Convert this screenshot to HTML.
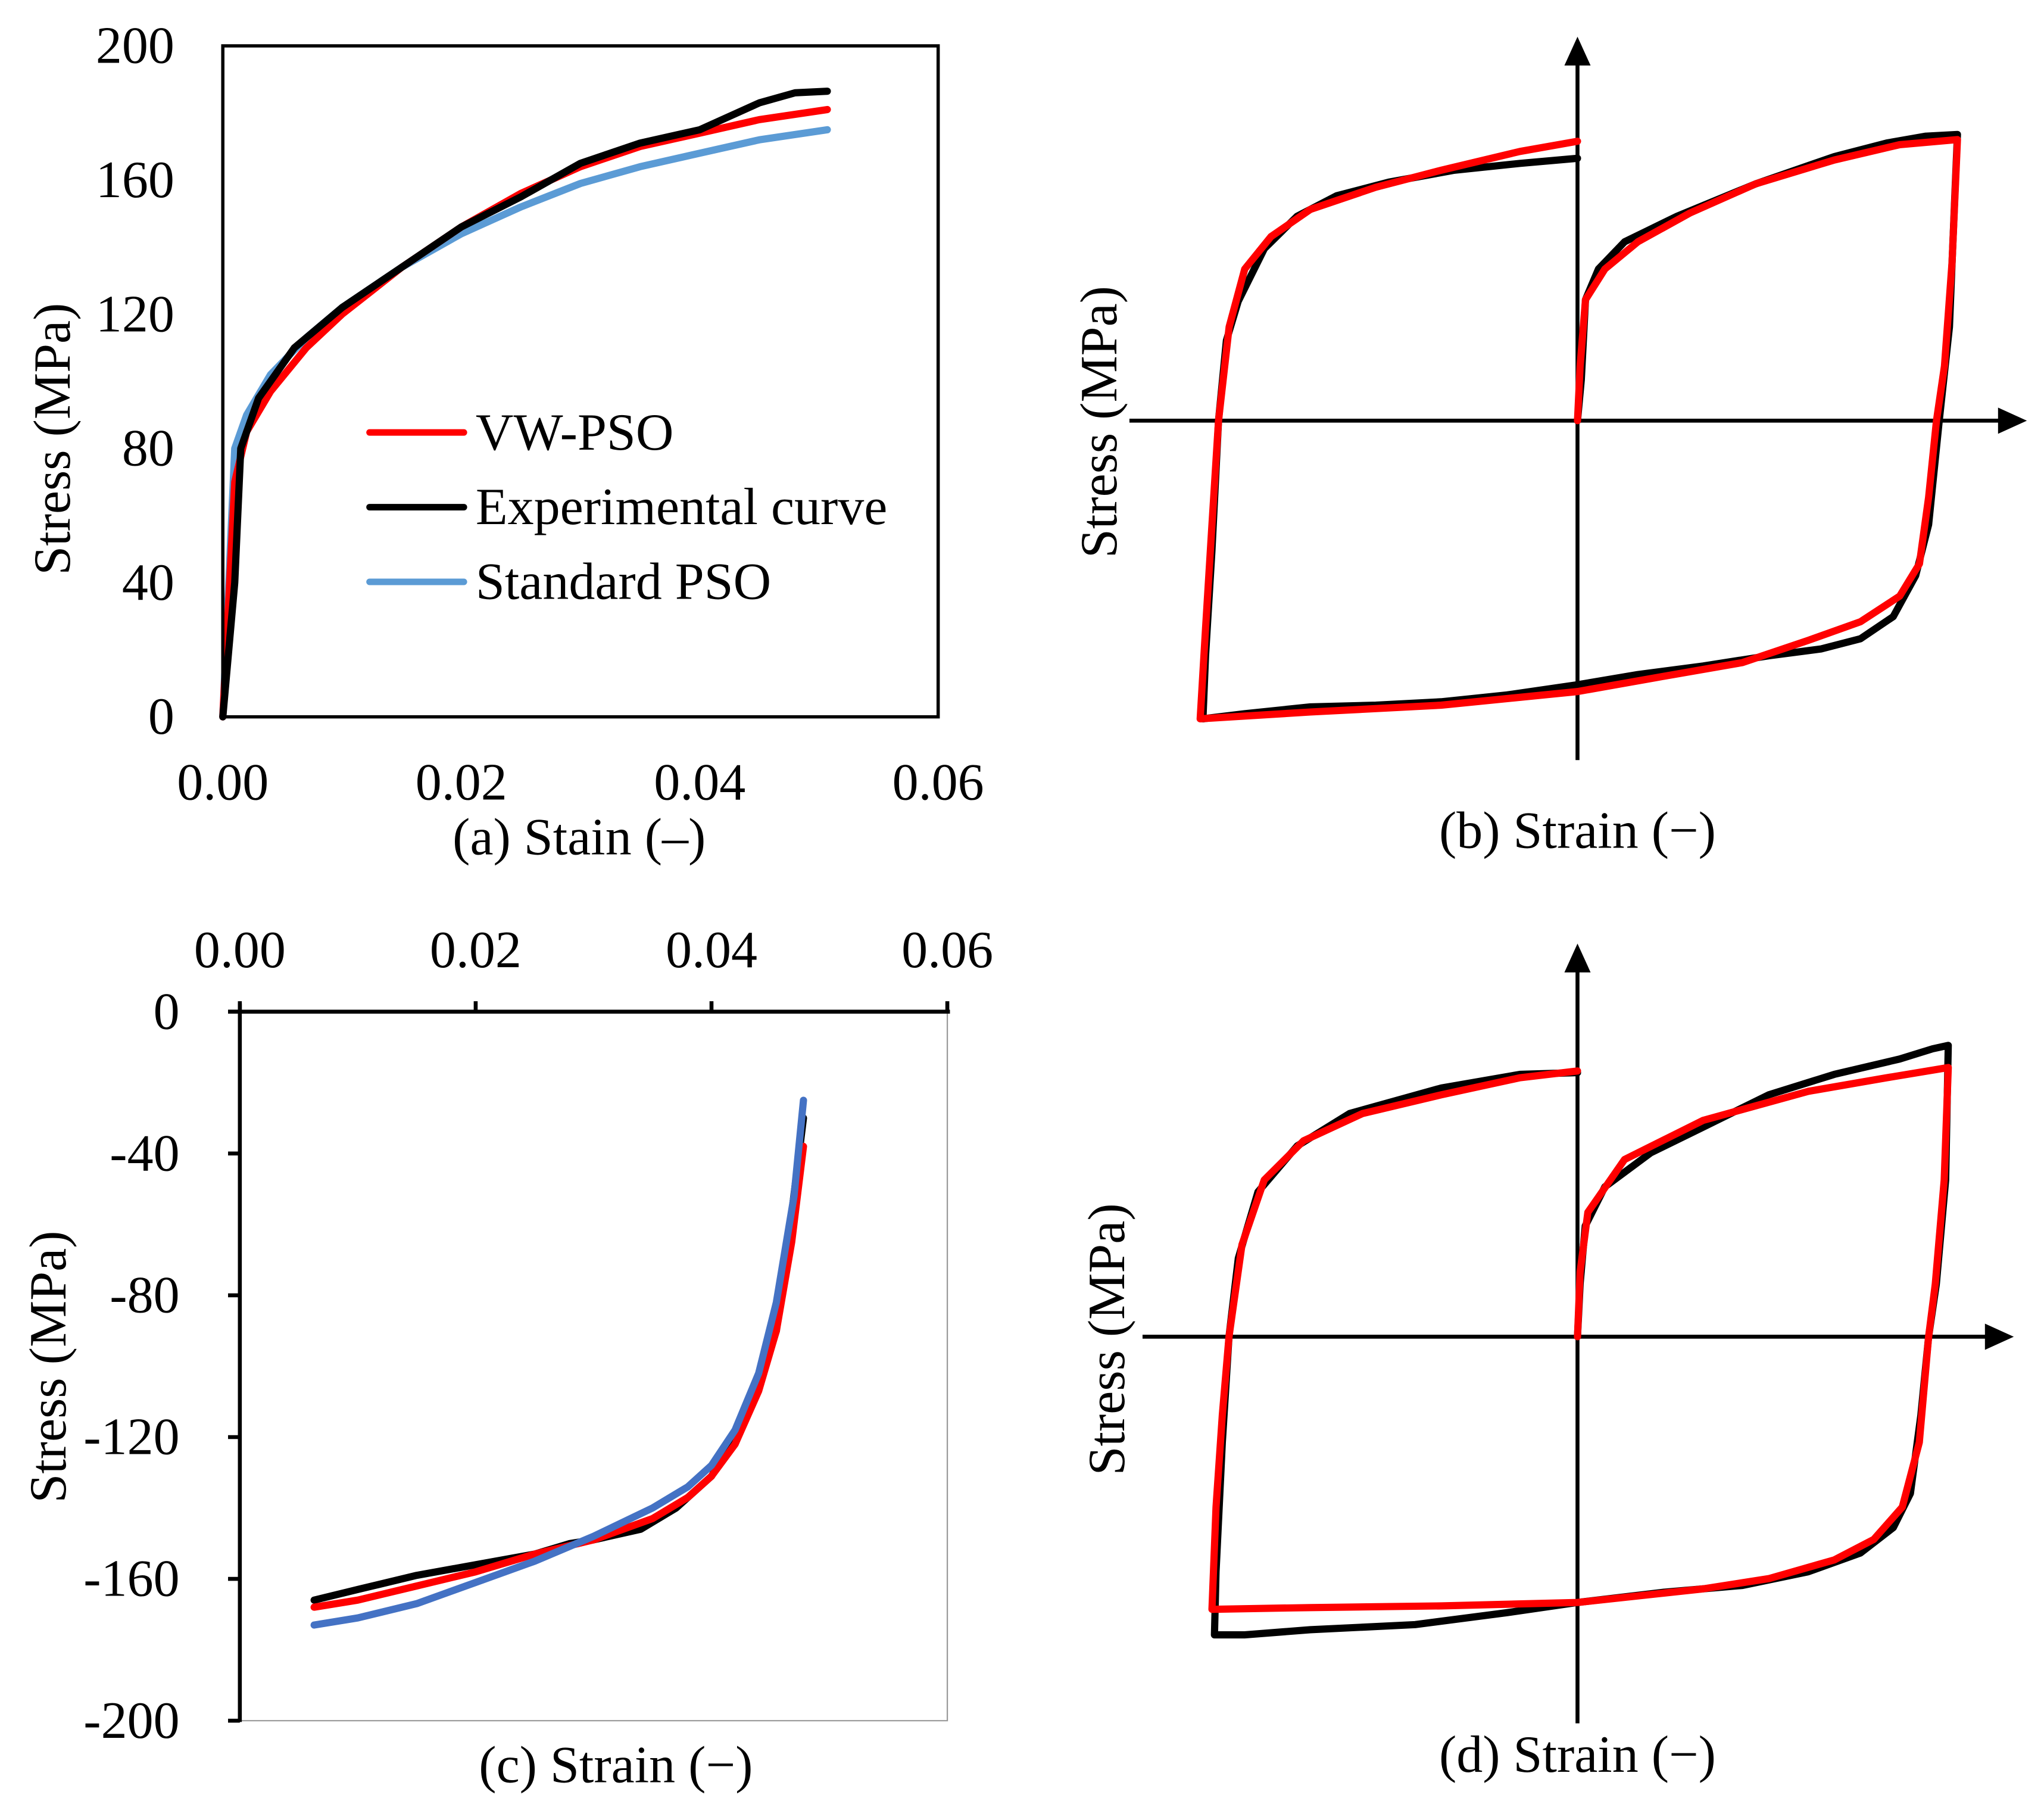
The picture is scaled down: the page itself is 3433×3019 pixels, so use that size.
<!DOCTYPE html>
<html><head><meta charset="utf-8"><style>
html,body{margin:0;padding:0;background:#fff}
svg{display:block}
text{font-family:"Liberation Serif",serif;font-size:40px;fill:#000}
</style></head><body>
<svg id="fig" width="3433" height="3019" viewBox="0 0 1560 1372" xmlns="http://www.w3.org/2000/svg">
<g id="pa"></g>
<g id="pb"></g>
<g id="pc"></g>
<g id="pd"></g>
</svg>
<script>
// Panel (a)
const aStrainExp=[0,0.001,0.0015,0.003,0.006,0.01,0.015,0.02,0.025,0.03,0.035,0.04,0.045,0.048,0.0507];
const aStressExp=[0,40,80,95,110,122,134,146,155,165,171,175,183,186,186.5];
const aStrainVW=[0,0.001,0.002,0.004,0.007,0.01,0.015,0.02,0.025,0.03,0.035,0.04,0.045,0.0507];
const aStressVW=[0,70,85,97,110,120,134,146,156,164,170,174,178,181];
const aStrainStd=[0,0.001,0.002,0.004,0.007,0.01,0.015,0.02,0.025,0.03,0.035,0.04,0.045,0.0507];
const aStressStd=[0,80,90,102,113,122,134,144,152,159,164,168,172,175];
const aYTicks=[0,40,80,120,160,200];
const aXTicks=[0,0.02,0.04,0.06];
const aXLabels=["0.00","0.02","0.04","0.06"];
const legendNames=["VW-PSO","Experimental curve","Standard PSO"];
// Panel (c)
const cStrainExp=[0.0063,0.01,0.015,0.02,0.025,0.028,0.03,0.034,0.037,0.04,0.042,0.044,0.0455,0.0465,0.0478];
const cStressExp=[-166,-163,-159,-156,-153,-150,-149,-146,-140,-131,-120,-105,-90,-65,-30];
const cStrainVW=[0.0063,0.01,0.015,0.02,0.025,0.03,0.035,0.038,0.04,0.042,0.044,0.0455,0.0468,0.0478];
const cStressVW=[-168,-166,-162,-158,-153,-149,-143,-137,-131,-122,-107,-90,-65,-38];
const cStrainStd=[0.0063,0.01,0.015,0.02,0.025,0.03,0.035,0.038,0.04,0.042,0.044,0.0455,0.047,0.0478];
const cStressStd=[-173,-171,-167,-161,-155,-148,-140,-134,-128,-118,-102,-82,-52,-25];
const cYTicks=[0,-40,-80,-120,-160,-200];
// Panel (b) normalized strain, stress
const bStrainExp=[0,0.01,0.021,0.055,0.124,0.262,0.469,0.676,0.814,0.917,1.0,0.993,0.979,0.952,0.924,0.890,0.831,0.745,0.641,0.503,0.331,0.159,0,-0.186,-0.359,-0.531,-0.703,-0.876,-0.986,-0.979,-0.962,-0.945,-0.924,-0.893,-0.824,-0.738,-0.634,-0.497,-0.324,-0.152,0];
const bStressExp=[0,24,71,89,105,120,139,155,163,167,168,132,55,0,-61,-91,-115,-128,-134,-138,-144,-149,-155,-161,-165,-167,-168,-172,-175,-138,-76,0,47,70,101,120,132,140,147,151,154];
const bStrainVW=[0,0.007,0.021,0.072,0.159,0.297,0.469,0.676,0.848,1.0,0.986,0.966,0.945,0.924,0.9,0.848,0.745,0.607,0.434,0.228,0,-0.359,-0.703,-0.993,-0.979,-0.962,-0.945,-0.917,-0.876,-0.807,-0.703,-0.531,-0.359,-0.152,0];
const bStressVW=[0,32,71,89,105,122,139,153,162,165,93,32,0,-45,-84,-103,-118,-129,-142,-150,-159,-167,-171,-175,-122,-61,0,55,89,108,124,137,147,158,164];
// Panel (d)
const dStrainExp=[0,.007,.021,.074,.198,.339,.516,.693,.869,.958,1,.993,.968,.947,.926,.898,.852,.763,.622,.445,.233,0,-.191,-.438,-.721,-.898,-.979,-.975,-.958,-.94,-.915,-.862,-.756,-.615,-.367,-.155,0];
const dStressExp=[0,31,65,88,108,123,142,154,163,169,171,92,31,0,-46,-92,-112,-127,-138,-146,-150,-156,-162,-169,-172,-175,-175,-138,-62,0,46,85,112,131,146,154,155];
const dStrainVW=[0,.007,.028,.127,.339,.622,.834,1,.989,.965,.947,.922,.876,.799,.693,.516,.339,0,-.367,-.721,-.986,-.975,-.958,-.94,-.905,-.845,-.739,-.58,-.367,-.155,0];
const dStressVW=[0,38,73,104,127,144,152,158,92,31,0,-62,-100,-119,-131,-142,-148,-156,-158,-159,-160,-100,-46,0,54,92,115,131,142,152,156];

const NS="http://www.w3.org/2000/svg";
function mk(parent,tag,attrs){const e=document.createElementNS(NS,tag);for(const k in attrs)e.setAttribute(k,attrs[k]);parent.appendChild(e);return e;}
function txt(parent,x,y,s,anchor,rot){const t=mk(parent,'text',{x:x,y:y,'text-anchor':anchor||'middle'});if(rot)t.setAttribute('transform','rotate(-90 '+x+' '+y+')');t.textContent=s;return t;}
function poly(parent,xs,ys,fx,fy,color,w){const pts=xs.map((v,i)=>fx(v).toFixed(1)+','+fy(ys[i]).toFixed(1)).join(' ');return mk(parent,'polyline',{points:pts,fill:'none',stroke:color,'stroke-width':w,'stroke-linejoin':'round','stroke-linecap':'round'});}
const RED='#ff0000',BLK='#000000',BLUE='#5b9bd5',BLUE2='#4472c4';
const LW=5.5;

// ---- Panel a ----
(function(){
const g=document.getElementById('pa');
const x=v=>170+v/0.06*546, y=v=>547-v/200*512;
let e;
e=poly(g,aStrainStd,aStressStd,x,y,BLUE,LW);


e=poly(g,aStrainVW,aStressVW,x,y,RED,LW);


e=poly(g,aStrainExp,aStressExp,x,y,BLK,LW);


e=mk(g,'rect',{x:170,y:35,width:546,height:512,fill:'none',stroke:'#000','stroke-width':2.5});


aYTicks.forEach(v=>{e=txt(g,133,y(v)+13,String(v),'end');

});
aXTicks.forEach((v,i)=>{e=txt(g,x(v),610,aXLabels[i]);

});
e=txt(g,53,335,'Stress (MPa)','middle',true);


e=txt(g,442,652,'(a) Stain (\u2013)');


const cols=[RED,BLK,BLUE];
legendNames.forEach((n,i)=>{const ly=330+i*57;
e=mk(g,'line',{x1:282,y1:ly,x2:354,y2:ly,stroke:cols[i],'stroke-width':5,'stroke-linecap':'round'});


e=txt(g,363,ly+13,n,'start');

});
})();

// ---- Panel c ----
(function(){
const g=document.getElementById('pc');
const x=v=>183+v/0.06*540, y=v=>772-v/200*541;
let e;
e=mk(g,'polyline',{points:'183,772 723,772 723,1313 183,1313',fill:'none',stroke:'#999','stroke-width':1});


e=poly(g,cStrainExp,cStressExp,x,y,BLK,LW);


e=poly(g,cStrainVW,cStressVW,x,y,RED,LW);


e=poly(g,cStrainStd,cStressStd,x,y,BLUE2,LW);


e=mk(g,'line',{x1:174,y1:772,x2:725,y2:772,stroke:'#000','stroke-width':3});


e=mk(g,'line',{x1:183,y1:766,x2:183,y2:1314,stroke:'#000','stroke-width':3});


aXTicks.forEach((v,i)=>{
e=mk(g,'line',{x1:x(v),y1:772,x2:x(v),y2:764,stroke:'#000','stroke-width':3});


e=txt(g,x(v),738,aXLabels[i]);

});
cYTicks.forEach(v=>{
e=mk(g,'line',{x1:174,y1:y(v),x2:183,y2:y(v),stroke:'#000','stroke-width':3});


e=txt(g,137,y(v)+13,String(v),'end');

});
e=txt(g,50,1043,'Stress (MPa)','middle',true);


e=txt(g,470,1360,'(c) Strain (\u2212)');


})();

// ---- hysteresis panels ----
function hyst(id,cx,cy,xs,top,bot,left,right,sE,tE,sV,tV,label,titleX,titleY,labY){
const g=document.getElementById(id);
const x=v=>cx+v*xs, y=v=>cy-v*1.3;
let e;
e=mk(g,'line',{x1:cx,y1:bot,x2:cx,y2:top+20,stroke:'#000','stroke-width':3});


e=mk(g,'polygon',{points:(cx-10)+','+(top+22)+' '+(cx+10)+','+(top+22)+' '+cx+','+top,fill:'#000'});


e=mk(g,'line',{x1:left,y1:cy,x2:right-20,y2:cy,stroke:'#000','stroke-width':3});


e=mk(g,'polygon',{points:(right-22)+','+(cy-10)+' '+(right-22)+','+(cy+10)+' '+right+','+cy,fill:'#000'});


e=poly(g,sE,tE,x,y,BLK,LW);


e=poly(g,sV,tV,x,y,RED,LW);


e=txt(g,titleX,titleY,'Stress (MPa)','middle',true);


e=txt(g,cx,labY,label);


}
hyst('pb',1204,321,290,28,580,862,1547,bStrainExp,bStressExp,bStrainVW,bStressVW,'(b) Strain (\u2212)',852,322,647);
hyst('pd',1204,1020,283,720,1315,872,1537,dStrainExp,dStressExp,dStrainVW,dStressVW,'(d) Strain (\u2212)',858,1022,1352);
</script>
</body></html>
